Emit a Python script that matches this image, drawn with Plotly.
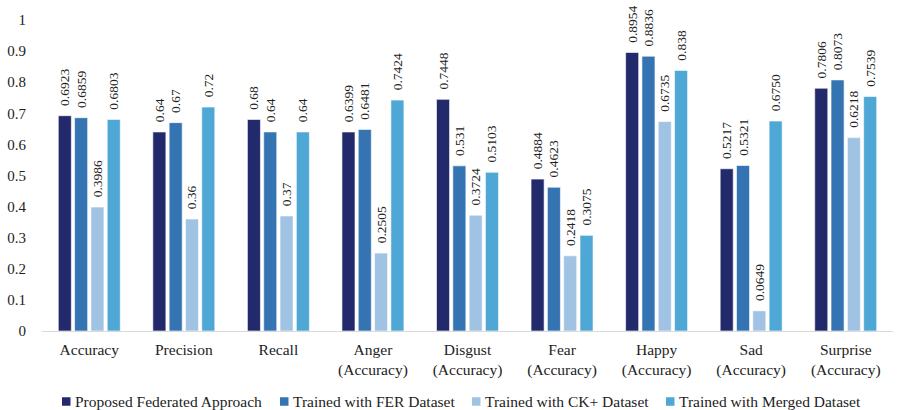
import plotly.graph_objects as go

categories = [
    "Accuracy", "Precision", "Recall",
    "Anger<br>(Accuracy)", "Disgust<br>(Accuracy)", "Fear<br>(Accuracy)",
    "Happy<br>(Accuracy)", "Sad<br>(Accuracy)", "Surprise<br>(Accuracy)",
]

series_names = [
    "Proposed Federated Approach",
    "Trained with FER Dataset",
    "Trained with CK+ Dataset",
    "Trained with Merged Dataset",
]

federated_labels = ["0.6923", "0.64", "0.68", "0.6399", "0.7448", "0.4884", "0.8954", "0.5217", "0.7806"]
fer_labels = ["0.6859", "0.67", "0.64", "0.6481", "0.531", "0.4623", "0.8836", "0.5321", "0.8073"]
ckplus_labels = ["0.3986", "0.36", "0.37", "0.2505", "0.3724", "0.2418", "0.6735", "0.0649", "0.6218"]
merged_labels = ["0.6803", "0.72", "0.64", "0.7424", "0.5103", "0.3075", "0.838", "0.6750", "0.7539"]

series_labels = [federated_labels, fer_labels, ckplus_labels, merged_labels]
colors = ["#232a6b", "#3574b2", "#a0c3e4", "#4fa7d6"]

font_family = "Liberation Serif"
text_color = "#222222"

# plot area in pixels (used to place the custom legend row)
W, H = 898, 410
M_L, M_R, M_T, M_B = 42, 5, 20, 79
plot_w = W - M_L - M_R
plot_h = H - M_T - M_B


def px_to_paper_x(px):
    return (px - M_L) / plot_w


def px_to_paper_y(py):
    return (H - M_B - py) / plot_h


fig = go.Figure()
for name, labels, color in zip(series_names, series_labels, colors):
    fig.add_trace(go.Bar(
        name=name,
        x=categories,
        y=[float(s) for s in labels],
        # two non-breaking spaces lift the rotated label a little off the bar
        text=["\u00a0\u00a0" + s for s in labels],
        textposition="outside",
        textangle=-90,
        constraintext="none",
        textfont=dict(family=font_family, size=13.5, color=text_color),
        cliponaxis=False,
        showlegend=False,
        marker=dict(color=color, line=dict(color="rgba(255,255,255,0.6)", width=1)),
    ))

# legend row: small colour squares with names beside them
legend_left_px = [62, 280, 472, 666]
legend_cy = 401.5
sq = 8.5
for name, color, lx in zip(series_names, colors, legend_left_px):
    fig.add_shape(
        type="rect", xref="paper", yref="paper",
        x0=px_to_paper_x(lx), x1=px_to_paper_x(lx + sq),
        y0=px_to_paper_y(legend_cy + sq / 2), y1=px_to_paper_y(legend_cy - sq / 2),
        fillcolor=color, line=dict(width=0),
    )
    fig.add_annotation(
        xref="paper", yref="paper",
        x=px_to_paper_x(lx + sq + 2.5), y=px_to_paper_y(legend_cy),
        xanchor="left", yanchor="middle",
        text=name, showarrow=False,
        font=dict(family=font_family, size=15.5, color=text_color),
    )

fig.update_layout(
    width=W, height=H,
    margin=dict(l=M_L, r=M_R, t=M_T, b=M_B, autoexpand=False),
    barmode="group",
    bargap=0.31,
    bargroupgap=0.2,
    plot_bgcolor="white",
    paper_bgcolor="white",
    font=dict(family=font_family, size=14, color=text_color),
    showlegend=False,
)
fig.update_xaxes(
    showline=True, linecolor="#d9d9d9", linewidth=1,
    ticks="", showgrid=False,
    ticklabelstandoff=4,
    tickfont=dict(family=font_family, size=15.5, color=text_color),
)
fig.update_yaxes(
    range=[0, 1],
    tickvals=[0, 0.1, 0.2, 0.3, 0.4, 0.5, 0.6, 0.7, 0.8, 0.9, 1],
    ticktext=["0", "0.1", "0.2", "0.3", "0.4", "0.5", "0.6", "0.7", "0.8", "0.9", "1"],
    showgrid=False, zeroline=False, showline=False, ticks="",
    ticklabelstandoff=15,
    tickfont=dict(family=font_family, size=15, color=text_color),
)

fig.write_html("out.html")
